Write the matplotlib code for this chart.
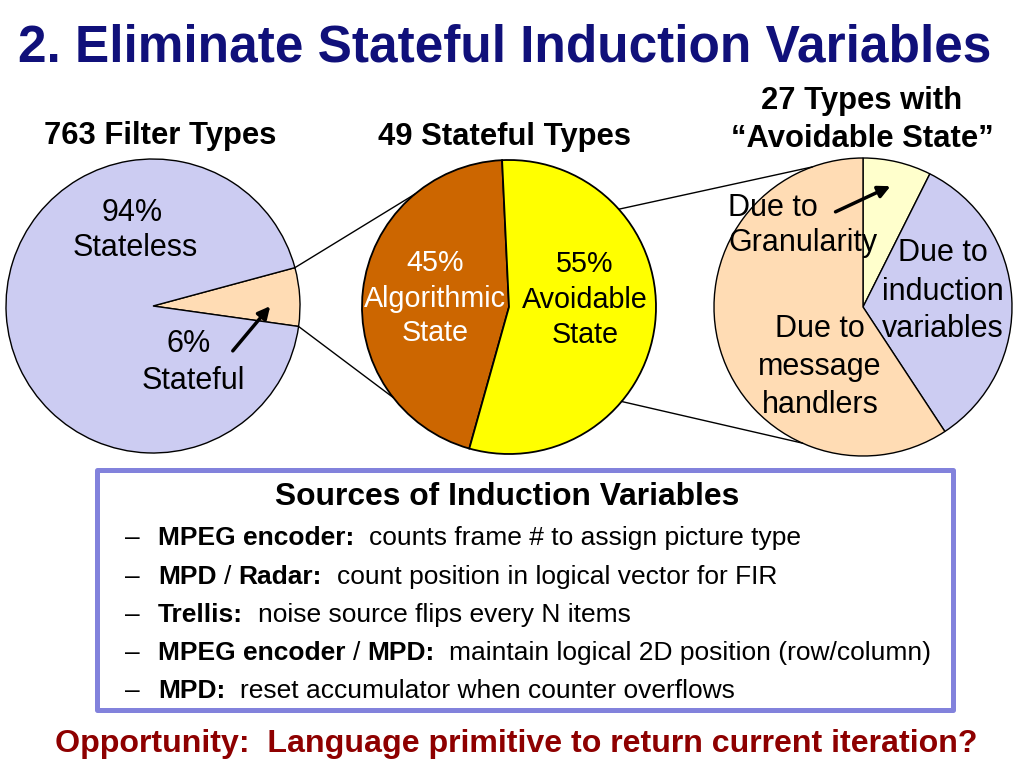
import matplotlib
matplotlib.use("Agg")
import matplotlib.pyplot as plt
import numpy as np
from matplotlib.patches import Rectangle

# ---------------- data ----------------
filter_labels = ["Stateful", "Stateless"]
filter_counts = [49, 714]            # 763 filter types
stateful_labels = ["Algorithmic State", "Avoidable State"]
stateful_counts = [22, 27]           # 49 stateful types
avoid_labels = ["Granularity", "Induction variables", "Message handlers"]
avoid_counts = [2, 9, 16]            # 27 types with avoidable state

bullets = [
    [("MPEG encoder:", True), ("  counts frame # to assign picture type", False)],
    [("MPD", True), (" / ", False), ("Radar:", True), ("  count position in logical vector for FIR", False)],
    [("Trellis:", True), ("  noise source flips every N items", False)],
    [("MPEG encoder", True), (" / ", False), ("MPD:", True), ("  maintain logical 2D position (row/column)", False)],
    [("MPD:", True), ("  reset accumulator when counter overflows", False)],
]

W, H = 1023, 767
FONT = "Liberation Sans"
plt.rcParams["font.family"] = [FONT, "DejaVu Sans"]

fig = plt.figure(figsize=(W / 100, H / 100), dpi=100)
ax = fig.add_axes([0, 0, 1, 1])

def Y(y):
    return H - y

def txt(x, y, s, size, ha="center", weight="normal", color="black"):
    px = size * 100 / 72
    return ax.text(x, Y(y + 0.358 * px), s, fontsize=size, ha=ha, va="baseline",
                   fontweight=weight, color=color, family=FONT)

# ---------------- pies ----------------
c1 = (153, 306); r1 = 147
c2 = (509, 307); r2 = 147
c3 = (863, 307); r3 = 149

w1, _ = ax.pie(filter_counts, colors=["#ffdcb4", "#ccccf2"], startangle=-8,
               center=(c1[0], Y(c1[1])), radius=r1,
               wedgeprops=dict(edgecolor="black", linewidth=1.0))
w2, _ = ax.pie(stateful_counts, colors=["#cc6600", "#ffff00"], startangle=92.7,
               center=(c2[0], Y(c2[1])), radius=r2,
               wedgeprops=dict(edgecolor="black", linewidth=1.3))
w3, _ = ax.pie(avoid_counts, colors=["#ffffcc", "#ccccf2", "#ffdcb4"], startangle=90,
               counterclock=False, center=(c3[0], Y(c3[1])), radius=r3,
               wedgeprops=dict(edgecolor="black", linewidth=1.0))

ax.set_xlim(0, W)
ax.set_ylim(0, H)
ax.set_aspect("equal")
ax.axis("off")

def pt(c, r, ang):
    a = np.deg2rad(ang)
    return c[0] + r * np.cos(a), Y(c[1]) + r * np.sin(a)

# zoom connector lines
st = w1[0]
for a_from, a_to in [(st.theta2, 130), (st.theta1, 218)]:
    p0 = pt(c1, r1, a_from); p1 = pt(c2, r2, a_to)
    ax.plot([p0[0], p1[0]], [p0[1], p1[1]], color="black", lw=1.0)
for a_from, a_to in [(41.7, 110), (-40, -114)]:
    p0 = pt(c2, r2, a_from); p1 = pt(c3, r3, a_to)
    ax.plot([p0[0], p1[0]], [p0[1], p1[1]], color="black", lw=1.0)

# ---------------- titles ----------------
txt(18, 43.5, "2. Eliminate Stateful Induction Variables", 37, ha="left",
    weight="bold", color="#10107a")
txt(160, 133, "763 Filter Types", 22.3, weight="bold")
txt(505, 134, "49 Stateful Types", 22.3, weight="bold")
txt(862, 98, "27 Types with", 22.3, weight="bold")
txt(862, 136, "\u201cAvoidable State\u201d", 22.3, weight="bold")

# ---------------- pie labels ----------------
txt(132, 210, "94%", 22)
txt(135, 245, "Stateless", 22)
txt(189, 341, "6%", 22)
txt(193, 378, "Stateful", 22)
ax.annotate("", xy=(272, Y(304)), xytext=(231, Y(353)),
            arrowprops=dict(arrowstyle="-|>", lw=2.5, color="black", mutation_scale=18))

for yy, s in zip([261, 297, 331], ["45%", "Algorithmic", "State"]):
    txt(435, yy, s, 20.7, color="white")
for yy, s in zip([262, 298, 333], ["55%", "Avoidable", "State"]):
    txt(585, yy, s, 20.7)

txt(728, 205, "Due to", 22, ha="left")
txt(728, 240, "Granularity", 22, ha="left")
ax.annotate("", xy=(893, Y(185)), xytext=(833, Y(213)),
            arrowprops=dict(arrowstyle="-|>", lw=2.5, color="black", mutation_scale=18))
for yy, s in zip([250, 289, 326], ["Due to", "induction", "variables"]):
    txt(943, yy, s, 22)
for yy, s in zip([326, 364, 402], ["Due to", "message", "handlers"]):
    txt(820, yy, s, 22)

# ---------------- box ----------------
ax.add_patch(Rectangle((97, Y(710)), 856, 240, fill=False, edgecolor="#8282dc",
                       linewidth=3.6, joinstyle="round", zorder=3))
txt(507, 494, "Sources of Induction Variables", 22.9, weight="bold")

fig.canvas.draw()
renderer = fig.canvas.get_renderer()
inv = ax.transData.inverted()
bsize = 19
space_px = 0.278 * bsize * 100 / 72
for i, segs in enumerate(bullets):
    yy = 536 + i * 38.2
    txt(125, yy, "\u2013", bsize, ha="left")
    x = 158
    for s, bold in segs:
        lead = len(s) - len(s.lstrip(" "))
        trail = len(s) - len(s.rstrip(" "))
        x += lead * space_px
        core = s.strip(" ")
        t = txt(x, yy, core, bsize, ha="left", weight="bold" if bold else "normal")
        bb = t.get_window_extent(renderer)
        x1 = inv.transform((bb.x1, bb.y0))[0]
        x = x1 + trail * space_px

txt(516, 741, "Opportunity:  Language primitive to return current iteration?", 23.1,
    weight="bold", color="#8e0000")

fig.savefig("out.png", dpi=100)
